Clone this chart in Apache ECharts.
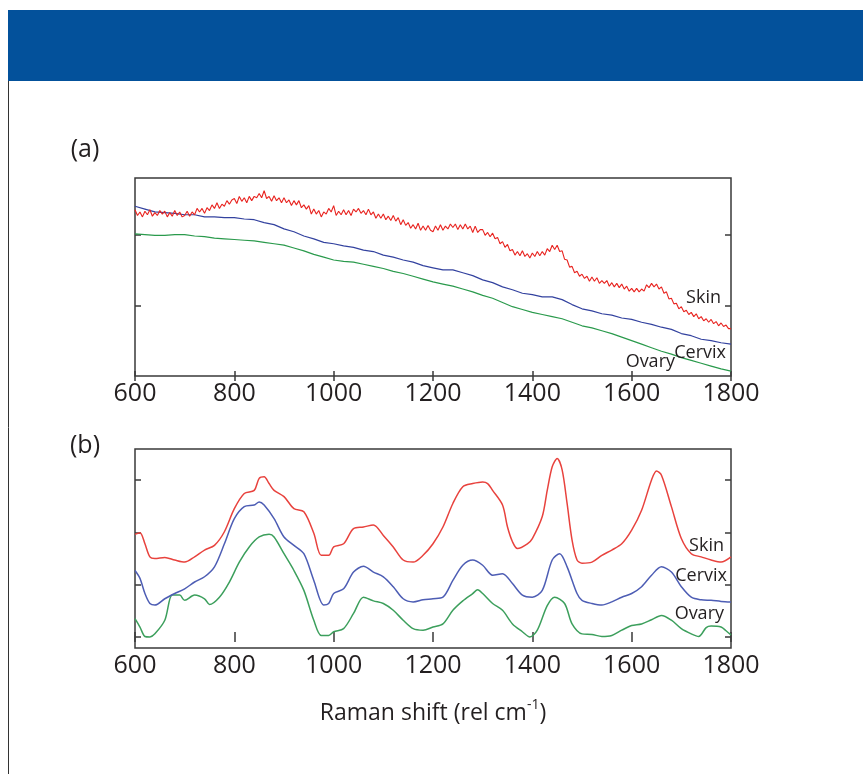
<!DOCTYPE html>
<html>
<head>
<meta charset="utf-8">
<script src="https://cdn.jsdelivr.net/npm/echarts@6/dist/echarts.min.js"></script>
<style>
html, body { margin: 0; padding: 0; background: #fff; }
#main { width: 863px; height: 774px; }
</style>
</head>
<body>
<div id="main"></div>
<script>
// x ticks shared by both panels
const shiftMin = 600, shiftMax = 1800, shiftStep = 200

// panel (a): raw spectra. Skin sampled every 5 cm-1 (one row = 100 cm-1), the others every 20 cm-1
const skinA = [
    2.35, 2.27, 2.32, 2.25, 2.33, 2.28, 2.35, 2.26, 2.31, 2.27, 2.34, 2.29, 2.33, 2.25, 2.31, 2.26, 2.34, 2.27, 2.32, 2.25,
    2.27, 2.33, 2.26, 2.32, 2.28, 2.37, 2.32, 2.37, 2.30, 2.38, 2.34, 2.42, 2.37, 2.45, 2.37, 2.43, 2.40, 2.48, 2.43, 2.49,
    2.51, 2.44, 2.54, 2.47, 2.52, 2.45, 2.54, 2.48, 2.54, 2.52, 2.58, 2.52, 2.62, 2.51, 2.54, 2.47, 2.55, 2.48, 2.52, 2.45,
    2.52, 2.45, 2.49, 2.41, 2.48, 2.42, 2.48, 2.38, 2.42, 2.36, 2.41, 2.29, 2.36, 2.29, 2.34, 2.25, 2.32, 2.29, 2.37, 2.32,
    2.41, 2.27, 2.33, 2.28, 2.35, 2.28, 2.34, 2.27, 2.36, 2.32, 2.37, 2.30, 2.34, 2.28, 2.36, 2.28, 2.32, 2.23, 2.29, 2.23,
    2.29, 2.21, 2.26, 2.20, 2.27, 2.19, 2.24, 2.14, 2.21, 2.13, 2.17, 2.09, 2.14, 2.08, 2.16, 2.06, 2.12, 2.06, 2.13, 2.06,
    2.04, 2.12, 2.06, 2.14, 2.06, 2.12, 2.08, 2.15, 2.10, 2.15, 2.07, 2.14, 2.08, 2.15, 2.08, 2.12, 2.03, 2.12, 2.03, 2.07,
    2.07, 1.99, 2.03, 1.97, 2.02, 1.94, 1.96, 1.87, 1.90, 1.82, 1.86, 1.77, 1.79, 1.71, 1.76, 1.70, 1.77, 1.69, 1.73, 1.67,
    1.74, 1.69, 1.76, 1.70, 1.76, 1.71, 1.80, 1.76, 1.85, 1.79, 1.85, 1.76, 1.77, 1.65, 1.64, 1.54, 1.55, 1.46, 1.48, 1.41,
    1.44, 1.38, 1.41, 1.34, 1.40, 1.34, 1.39, 1.31, 1.35, 1.31, 1.35, 1.27, 1.32, 1.26, 1.31, 1.25, 1.30, 1.23, 1.27, 1.20,
    1.24, 1.19, 1.24, 1.19, 1.23, 1.20, 1.29, 1.25, 1.31, 1.26, 1.30, 1.23, 1.26, 1.17, 1.19, 1.09, 1.10, 1.02, 1.03, 0.95,
    0.98, 0.91, 0.93, 0.87, 0.90, 0.84, 0.88, 0.81, 0.84, 0.78, 0.81, 0.76, 0.80, 0.74, 0.77, 0.71, 0.75, 0.70, 0.72, 0.67,
    0.67
]
const cervixA = [
    2.40, 2.36, 2.32, 2.31, 2.30, 2.28, 2.28, 2.25, 2.25, 2.24,
    2.24, 2.22, 2.21, 2.17, 2.14, 2.08, 2.04, 1.98, 1.94, 1.89,
    1.87, 1.84, 1.82, 1.78, 1.76, 1.71, 1.68, 1.64, 1.61, 1.56,
    1.53, 1.50, 1.50, 1.46, 1.42, 1.36, 1.32, 1.26, 1.22, 1.17,
    1.15, 1.12, 1.12, 1.08, 1.01, 0.95, 0.92, 0.88, 0.86, 0.82,
    0.80, 0.76, 0.73, 0.69, 0.66, 0.60, 0.57, 0.52, 0.50, 0.47,
    0.45
]
const ovaryA = [
    2.01, 2.00, 1.99, 1.99, 2.00, 2.00, 1.98, 1.97, 1.95, 1.94,
    1.93, 1.92, 1.91, 1.89, 1.87, 1.85, 1.81, 1.77, 1.72, 1.68,
    1.64, 1.62, 1.61, 1.58, 1.55, 1.52, 1.48, 1.45, 1.41, 1.37,
    1.33, 1.30, 1.27, 1.23, 1.19, 1.14, 1.10, 1.04, 0.98, 0.94,
    0.90, 0.87, 0.84, 0.81, 0.76, 0.71, 0.68, 0.64, 0.60, 0.55,
    0.50, 0.45, 0.40, 0.35, 0.31, 0.26, 0.22, 0.18, 0.14, 0.10,
    0.07
]

// panel (b): processed spectra, [shift, intensity]
const skinB = [
    [600, 1.96], [610, 1.99], [620, 1.78], [630, 1.53], [640, 1.50], [660, 1.52], [680, 1.47],
    [700, 1.43], [720, 1.53], [740, 1.66], [760, 1.75], [780, 2.01], [800, 2.45], [820, 2.74],
    [840, 2.80], [850, 3.03], [860, 3.06], [870, 2.93], [880, 2.80], [900, 2.68], [920, 2.45],
    [940, 2.39], [960, 1.98], [975, 1.56], [990, 1.56], [1000, 1.72], [1020, 1.78], [1040, 2.07],
    [1060, 2.10], [1080, 2.14], [1100, 1.94], [1120, 1.72], [1140, 1.47], [1160, 1.43], [1180, 1.56],
    [1200, 1.78], [1220, 2.10], [1240, 2.55], [1260, 2.87], [1280, 2.93], [1300, 2.96], [1310, 2.93],
    [1320, 2.80], [1340, 2.52], [1350, 2.10], [1360, 1.82], [1370, 1.69], [1390, 1.78], [1400, 1.88],
    [1420, 2.30], [1430, 2.80], [1440, 3.25], [1450, 3.41], [1460, 3.19], [1470, 2.55], [1480, 1.85],
    [1490, 1.47], [1500, 1.41], [1520, 1.43], [1540, 1.56], [1560, 1.66], [1580, 1.78], [1600, 2.04],
    [1620, 2.42], [1640, 3.00], [1650, 3.17], [1660, 3.09], [1680, 2.49], [1700, 1.88], [1720, 1.59],
    [1740, 1.53], [1760, 1.47], [1780, 1.43], [1800, 1.53]
]
const cervixB = [
    [600, 1.27], [610, 1.12], [620, 0.83], [630, 0.64], [640, 0.61], [660, 0.73], [680, 0.83],
    [700, 0.92], [720, 1.05], [740, 1.15], [760, 1.34], [780, 1.78], [800, 2.26], [820, 2.49],
    [840, 2.52], [850, 2.58], [860, 2.52], [880, 2.26], [900, 1.91], [920, 1.75], [940, 1.59],
    [960, 1.08], [980, 0.61], [990, 0.64], [1000, 0.83], [1020, 0.92], [1040, 1.24], [1060, 1.35],
    [1080, 1.24], [1100, 1.15], [1120, 0.96], [1140, 0.73], [1160, 0.67], [1180, 0.71], [1200, 0.73],
    [1220, 0.76], [1240, 1.08], [1260, 1.37], [1280, 1.47], [1300, 1.37], [1320, 1.18], [1340, 1.21],
    [1360, 1.02], [1380, 0.80], [1400, 0.76], [1420, 0.89], [1440, 1.47], [1455, 1.59], [1470, 1.34],
    [1490, 0.83], [1500, 0.70], [1520, 0.64], [1540, 0.61], [1560, 0.67], [1580, 0.76], [1600, 0.83],
    [1620, 0.96], [1640, 1.18], [1660, 1.34], [1680, 1.24], [1700, 0.96], [1720, 0.76], [1740, 0.71],
    [1760, 0.70], [1780, 0.68], [1800, 0.67]
]
const ovaryB = [
    [600, 0.35], [610, 0.19], [620, 0.01], [630, 0.00], [640, 0.06], [660, 0.32], [675, 0.80],
    [690, 0.80], [700, 0.70], [720, 0.80], [740, 0.73], [750, 0.62], [770, 0.76], [790, 1.05],
    [810, 1.43], [830, 1.72], [850, 1.91], [870, 1.96], [880, 1.91], [900, 1.59], [920, 1.27],
    [940, 0.89], [960, 0.32], [975, 0.03], [990, 0.03], [1000, 0.10], [1020, 0.16], [1040, 0.45],
    [1060, 0.76], [1080, 0.69], [1100, 0.64], [1120, 0.51], [1140, 0.32], [1160, 0.16], [1180, 0.13],
    [1200, 0.19], [1220, 0.25], [1240, 0.51], [1260, 0.69], [1280, 0.83], [1290, 0.90], [1300, 0.83],
    [1320, 0.64], [1340, 0.51], [1360, 0.25], [1380, 0.10], [1395, 0.00], [1410, 0.13], [1430, 0.60],
    [1445, 0.76], [1465, 0.64], [1480, 0.25], [1500, 0.06], [1520, 0.05], [1540, 0.01], [1560, 0.03],
    [1580, 0.13], [1600, 0.22], [1620, 0.25], [1640, 0.33], [1660, 0.41], [1680, 0.32], [1700, 0.16],
    [1720, 0.06], [1735, 0.01], [1750, 0.18], [1760, 0.21], [1780, 0.19], [1790, 0.12], [1800, 0.04]
]

// tick positions on the y axes (no labels in the figure)
const yTicksA = [1, 2]
const yTicksB = [0, 1, 2, 3]

function onGrid(values, step) {
    return values.map((v, i) => [shiftMin + i * step, v])
}

const ink = '#231f20'
const frame = '#3a3a3a'
const font = 'Open Sans'

function xAxis(gridIndex, position, labels) {
    return {
        type: 'value', gridIndex, position,
        min: shiftMin, max: shiftMax, interval: shiftStep,
        axisLine: {show: false},
        splitLine: {show: false},
        axisTick: {show: true, inside: true, length: 5, lineStyle: {color: frame, width: 1.5}},
        axisLabel: {show: labels, fontSize: 25, color: ink, fontFamily: font, margin: 5, formatter: v => String(v)}
    }
}
function yAxis(gridIndex, position, min, max, ticks) {
    return {
        type: 'value', gridIndex, position, min, max,
        axisLine: {show: false},
        splitLine: {show: false},
        axisTick: {show: true, inside: true, length: 6, customValues: ticks, lineStyle: {color: frame, width: 1.5}},
        axisLabel: {show: false, customValues: ticks}
    }
}
function line(name, data, xi, color, width, smooth) {
    return {
        name, type: 'line', data, xAxisIndex: xi, yAxisIndex: xi,
        showSymbol: false, smooth, silent: true,
        lineStyle: {color, width}
    }
}

const bottomAxisB = xAxis(1, 'bottom', true)
bottomAxisB.name = 'Raman shift (rel cm{sup|-1})'
bottomAxisB.nameLocation = 'middle'
bottomAxisB.nameGap = 50
bottomAxisB.nameTextStyle = {
    fontSize: 23, color: ink, fontFamily: font, lineHeight: 30,
    rich: {sup: {fontSize: 14, color: ink, fontFamily: font, lineHeight: 14, verticalAlign: 'top'}}
}

function curveLabel(text, x, y) {
    return {
        type: 'text', z: 10,
        style: {text, x, y, font: '18px "Open Sans"', fill: ink, textAlign: 'right', textVerticalAlign: 'middle'}
    }
}

const chart = echarts.init(document.getElementById('main'))
chart.setOption({
    animation: false,
    backgroundColor: '#fff',
    grid: [
        {left: 135, top: 178, width: 596, height: 198, show: true, borderColor: frame, borderWidth: 1.5, backgroundColor: 'transparent'},
        {left: 135, top: 449, width: 596, height: 199, show: true, borderColor: frame, borderWidth: 1.5, backgroundColor: 'transparent'}
    ],
    xAxis: [
        xAxis(0, 'bottom', true),
        bottomAxisB,
        xAxis(0, 'top', false),
        xAxis(1, 'top', false)
    ],
    yAxis: [
        yAxis(0, 'left', 0, 2.8, yTicksA),
        yAxis(1, 'left', -0.21, 3.59, yTicksB),
        yAxis(0, 'right', 0, 2.8, yTicksA),
        yAxis(1, 'right', -0.21, 3.59, yTicksB)
    ],
    series: [
        line('Ovary', onGrid(ovaryA, 20), 0, '#2a9a4c', 1.2, false),
        line('Cervix', onGrid(cervixA, 20), 0, '#33429f', 1.2, false),
        line('Skin', onGrid(skinA, 5), 0, '#e8231f', 1.1, false),
        line('Ovary', ovaryB, 1, '#3c9f5c', 1.5, 0.3),
        line('Cervix', cervixB, 1, '#4d5db4', 1.5, 0.3),
        line('Skin', skinB, 1, '#e8423d', 1.5, 0.3)
    ],
    graphic: [
        {type: 'rect', shape: {x: 8, y: 10, width: 855, height: 71}, style: {fill: '#03519b'}},
        {type: 'line', shape: {x1: 8.5, y1: 81, x2: 8.5, y2: 774}, style: {stroke: '#333', lineWidth: 1}},
        {type: 'text', style: {text: '(a)', x: 85, y: 150, font: '25px "Open Sans"', fill: ink, textAlign: 'center', textVerticalAlign: 'middle'}},
        {type: 'text', style: {text: '(b)', x: 85, y: 446, font: '25px "Open Sans"', fill: ink, textAlign: 'center', textVerticalAlign: 'middle'}},
        curveLabel('Skin', 721, 298),
        curveLabel('Cervix', 726, 353),
        curveLabel('Ovary', 675, 362),
        curveLabel('Skin', 724, 546),
        curveLabel('Cervix', 727, 576),
        curveLabel('Ovary', 724, 614)
    ]
})
</script>
</body>
</html>
